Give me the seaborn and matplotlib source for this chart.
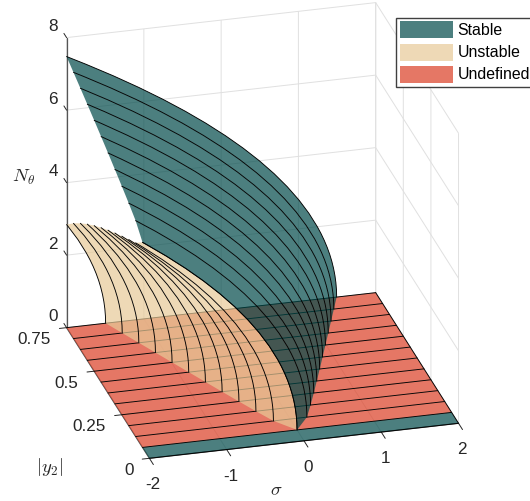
import numpy as np
import matplotlib
matplotlib.use("Agg")
import matplotlib.pyplot as plt
import seaborn as sns
from matplotlib.patches import Patch
from mpl_toolkits.mplot3d.art3d import Poly3DCollection

# --- data -----------------------------------------------------------------
sigma_ticks = [-2, -1, 0, 1, 2]
y_ticks = [0, 0.25, 0.5, 0.75]
y_tick_labels = ["0", "0.25", "0.5", "0.75"]
z_ticks = [0, 2, 4, 6, 8]
sigma_floor = [-2.0, 2.0]
y_rows = [0.0, 0.0625, 0.125, 0.1875, 0.25, 0.3125, 0.375, 0.4375, 0.5,
          0.5625, 0.625, 0.6875, 0.75]
# fold position (where N reaches the floor) of each row y=0.0625 ... 0.75
fold_stable = [0.0, 0.2165, 0.3536, 0.4841, 0.6124, 0.7395, 0.8660, 0.9922,
               1.1180, 1.2437, 1.3693, 1.4948]
fold_unstable = [0.0, -0.2165, -0.3536, -0.4841, -0.6124, -0.7395, -0.8660,
                 -0.9922, -1.1180, -1.2437, -1.3693, -1.4948]
# N at the sigma=-2 edge for the same rows
edge_stable = [5.657, 5.955, 6.137, 6.304, 6.465, 6.621, 6.772, 6.919, 7.063,
               7.204, 7.342, 7.478]
edge_unstable = [5.657, 5.342, 5.133, 4.925, 4.712, 4.491, 4.260, 4.016, 3.757,
                 3.479, 3.177, 2.843]
# curve shape: distance left of the fold, and N there
gap_profile = [0, 0.0025, 0.01, 0.0225, 0.04, 0.0625, 0.09, 0.1225, 0.16,
               0.2025, 0.25, 0.36, 0.49, 0.64, 0.81, 1.0, 1.21, 1.44, 1.69,
               1.96, 2.25, 2.56, 2.89, 3.24]
N_profile = [0, 0.2, 0.4, 0.6, 0.8, 1.0, 1.2, 1.4, 1.6, 1.8, 2.0, 2.4, 2.8,
             3.2, 3.6, 4.0, 4.4, 4.8, 5.2, 5.6, 6.0, 6.4, 6.8, 7.2]
labels = ["Stable", "Unstable", "Undefined"]

# --- style -----------------------------------------------------------------
sns.set_theme(style="white", rc={"grid.color": "#e0e0e0", "grid.linewidth": 0.7})
plt.rcParams["font.family"] = ["Liberation Sans", "DejaVu Sans"]
plt.rcParams["mathtext.fontset"] = "cm"
plt.rcParams["axes.unicode_minus"] = False
palette = sns.color_palette(["#004949", "#E7CA98", "#DB3E24"])
ALPHA = 0.7
INK = "#262626"
LW = 0.65

W, H = 530, 501
fig = plt.figure(figsize=(W / 100, H / 100), dpi=100)
S = 470
ax = fig.add_axes([21.2 / W, 29.2 / H, S / W, S / H], projection="3d",
                  proj_type="ortho", computed_zorder=False)
ax.view_init(elev=25, azim=-105)
ax.set_box_aspect((1, 1, 1), zoom=1.1449)
ax.set_xlim(-2, 2, view_margin=0)
ax.set_ylim(0, 0.75, view_margin=0)
ax.set_zlim(0, 8, view_margin=0)


def row_curve(fold, edge):
    gap = np.asarray(gap_profile)
    keep = gap < fold + 2
    s = np.r_[fold - gap[keep], -2.0]
    n = np.r_[np.asarray(N_profile)[keep], edge]
    return s, n


def surface(folds, edges, color, zbase):
    ys = y_rows[1:]
    curves = [row_curve(f, e) for f, e in zip(folds, edges)]
    polys = []
    for k in range(len(ys) - 1):
        s0, n0 = curves[k]
        s1, n1 = curves[k + 1]
        a = np.c_[s0, np.full_like(s0, ys[k]), n0]
        b = np.c_[s1, np.full_like(s1, ys[k + 1]), n1][::-1]
        polys.append(np.r_[a, b])
    ax.add_collection3d(Poly3DCollection(polys, facecolors=[color], edgecolors="none",
                                         linewidths=0, alpha=ALPHA, zorder=zbase))
    for y, (s, n) in zip(ys, curves):
        ax.plot(s, np.full_like(s, y), n, color="black", lw=LW, zorder=zbase + 1)


# floor: bottom row stable, the rest undefined
floor = []
colors = []
for k in range(len(y_rows) - 1):
    a, b = y_rows[k], y_rows[k + 1]
    floor.append([(sigma_floor[0], a, 0), (sigma_floor[1], a, 0),
                  (sigma_floor[1], b, 0), (sigma_floor[0], b, 0)])
    colors.append(palette[0] if k == 0 else palette[2])
ax.add_collection3d(Poly3DCollection(floor, facecolors=colors, edgecolors="none",
                                     linewidths=0, alpha=ALPHA, zorder=2))
for y in y_rows:
    ax.plot(sigma_floor, [y, y], [0, 0], color="black", lw=LW, zorder=3)
ax.plot([2, 2], [0, 0.75], [0, 0], color="black", lw=LW, zorder=3)

surface(fold_unstable, edge_unstable, palette[1], 4)
surface(fold_stable, edge_stable, palette[0], 6)

# --- axes ------------------------------------------------------------------
ax.set_xticks(sigma_ticks)
ax.set_yticks(y_ticks)
ax.set_yticklabels(y_tick_labels)
ax.set_zticks(z_ticks)
tick_in = {"x": 0.6, "y": 0.29, "z": 0.0}
tick_out = {"x": 0.0, "y": 0.0, "z": 0.4}
for name, axis in (("x", ax.xaxis), ("y", ax.yaxis), ("z", ax.zaxis)):
    axis.set_pane_color((1, 1, 1, 0))
    axis.pane.set_edgecolor("none")
    axis.line.set_color("#555555")
    axis.line.set_linewidth(0.9)
    axis._axinfo["tick"]["inward_factor"] = tick_in[name]
    axis._axinfo["tick"]["outward_factor"] = tick_out[name]
    axis._axinfo["tick"]["linewidth"] = {True: 0.7, False: 0.5}
    axis._axinfo["tick"]["color"] = "#555555"
ax.zaxis._get_tickdir = lambda position: 1  # z ticks point back along the y direction
ax.tick_params(axis="x", labelsize=12.3, colors=INK, pad=0)
ax.tick_params(axis="y", labelsize=12.3, colors=INK, pad=1)
ax.tick_params(axis="z", labelsize=12.3, colors=INK, pad=-2)
for tick in ax.yaxis.get_major_ticks():
    tick.label1.set_ha("right")
    tick.label1.set_va("baseline")
for tick in ax.zaxis.get_major_ticks():
    tick.label1.set_va("bottom")
ax.grid(True)

fig.text(23.5 / W, 1 - 177 / H, r"$N_\theta$", fontsize=13.5, color=INK, ha="center", va="center")
fig.text(50 / W, 1 - 467 / H, r"$|y_2|$", fontsize=13.5, color=INK, ha="center", va="center")
fig.text(276 / W, 1 - 491 / H, r"$\sigma$", fontsize=13.5, color=INK, ha="center", va="center")

handles = [Patch(facecolor=c, alpha=ALPHA, linewidth=0) for c in palette]
fig.legend(handles, labels, loc="upper left", bbox_to_anchor=(395.7 / W, 1 - 17.5 / H),
           borderaxespad=0, fontsize=11.4, fancybox=False, framealpha=1,
           edgecolor="#404040", handlelength=3.4, handleheight=1.278, labelspacing=0.32,
           handletextpad=0.25, borderpad=0.25, labelcolor="black")

fig.savefig("out.png", dpi=100)
